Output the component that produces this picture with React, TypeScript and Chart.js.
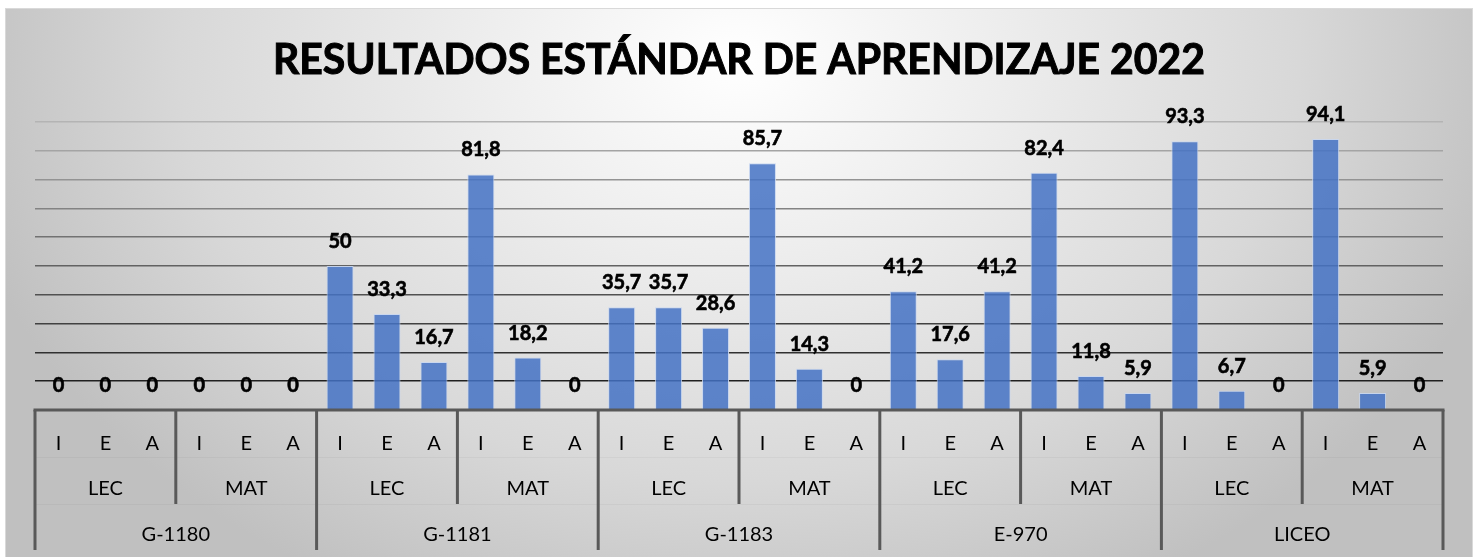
import React, { useEffect, useRef } from "react";
import { Chart, registerables } from "chart.js";

Chart.register(...registerables);

const TITLE = "RESULTADOS ESTÁNDAR DE APRENDIZAJE 2022";
const SCHOOLS = ["G-1180", "G-1181", "G-1183", "E-970", "LICEO"];
const SUBJECTS = ["LEC", "MAT"];
const LEVELS = ["I", "E", "A"];

const G1180 = [0, 0, 0, 0, 0, 0];
const G1181 = [50, 33.3, 16.7, 81.8, 18.2, 0];
const G1183 = [35.7, 35.7, 28.6, 85.7, 14.3, 0];
const E970 = [41.2, 17.6, 41.2, 82.4, 11.8, 5.9];
const LICEO = [93.3, 6.7, 0, 94.1, 5.9, 0];

const VALUES = [...G1180, ...G1181, ...G1183, ...E970, ...LICEO];

const Y_MIN = 0;
const Y_MAX = 100;
const Y_STEP = 10;

const FONT = "Lato, 'Open Sans', sans-serif";

const fmt = (v: number) => String(v).replace(".", ",");

export default function App() {
  const ref = useRef<HTMLCanvasElement>(null);

  useEffect(() => {
    const canvas = ref.current;
    if (!canvas) return;

    const labels: string[] = [];
    SCHOOLS.forEach(() => SUBJECTS.forEach(() => LEVELS.forEach((l) => labels.push(l))));

    const bgPlugin = {
      id: "bg",
      beforeDraw(chart: any) {
        const { ctx, width, height } = chart;
        ctx.save();
        const cx = width / 2;
        const cy = 52;
        const sy = 0.75;
        ctx.translate(cx, cy);
        ctx.scale(1, sy);
        const g = ctx.createRadialGradient(0, 0, 0, 0, 0, 800);
        g.addColorStop(0, "#ffffff");
        g.addColorStop(0.35, "#ececec");
        g.addColorStop(0.7, "#d8d8d8");
        g.addColorStop(1, "#c0c0c0");
        ctx.fillStyle = g;
        ctx.fillRect(-cx, -cy / sy, width, height / sy + 10);
        ctx.restore();
        ctx.save();
        ctx.strokeStyle = "#d9d9d9";
        ctx.lineWidth = 1;
        ctx.strokeRect(0.5, 0.5, width - 1, height + 5);
        ctx.restore();
      },
    };

    const labelPlugin = {
      id: "vals",
      afterDatasetsDraw(chart: any) {
        const { ctx } = chart;
        const meta = chart.getDatasetMeta(0);
        ctx.save();
        ctx.font = `bold 20px ${FONT}`;
        ctx.fillStyle = "#000000";
        ctx.strokeStyle = "#000000";
        ctx.lineWidth = 0.6;
        ctx.textAlign = "center";
        ctx.textBaseline = "alphabetic";
        meta.data.forEach((bar: any, i: number) => {
          const t = fmt(VALUES[i]);
          ctx.fillText(t, bar.x, bar.y - 18);
          ctx.strokeText(t, bar.x, bar.y - 18);
        });
        ctx.restore();
      },
    };

    const axisPlugin = {
      id: "multiAxis",
      afterDraw(chart: any) {
        const { ctx, chartArea } = chart;
        const xs = chart.scales.x;
        const ys = chart.scales.y;
        const axisY = ys.getPixelForValue(0);
        const n = labels.length;
        const boundary = (i: number) => {
          if (i <= 0) return chartArea.left;
          if (i >= n) return chartArea.right;
          return (xs.getPixelForValue(i - 1) + xs.getPixelForValue(i)) / 2;
        };
        ctx.save();
        // faint row lines
        ctx.strokeStyle = "rgba(0,0,0,0.035)";
        ctx.lineWidth = 1;
        [47, 94].forEach((d) => {
          ctx.beginPath();
          ctx.moveTo(chartArea.left, axisY + d + 0.5);
          ctx.lineTo(chartArea.right, axisY + d + 0.5);
          ctx.stroke();
        });
        // separators
        ctx.strokeStyle = "#595959";
        ctx.lineWidth = 3;
        const per2 = LEVELS.length;
        const per3 = LEVELS.length * SUBJECTS.length;
        for (let i = 0; i <= n; i += per2) {
          const x = boundary(i);
          const isTop = i % per3 === 0;
          ctx.beginPath();
          ctx.moveTo(x, axisY);
          ctx.lineTo(x, axisY + (isTop ? 140 : 94));
          ctx.stroke();
        }
        // axis line
        ctx.beginPath();
        ctx.moveTo(chartArea.left - 1.5, axisY);
        ctx.lineTo(chartArea.right + 1.5, axisY);
        ctx.stroke();

        ctx.fillStyle = "#000000";
        ctx.textAlign = "center";
        ctx.textBaseline = "middle";
        ctx.font = `20px ${FONT}`;
        labels.forEach((l, i) => {
          ctx.fillText(l, xs.getPixelForValue(i), axisY + 34);
        });
        let idx = 0;
        SCHOOLS.forEach((s, si) => {
          SUBJECTS.forEach((sub) => {
            const a = boundary(idx);
            const b = boundary(idx + per2);
            ctx.fillText(sub, (a + b) / 2, axisY + 79);
            idx += per2;
          });
          const a = boundary(si * per3);
          const b = boundary((si + 1) * per3);
          ctx.fillText(s, (a + b) / 2, axisY + 125);
        });

        // title
        ctx.font = `bold 42px ${FONT}`;
        ctx.textBaseline = "alphabetic";
        ctx.strokeStyle = "#000000";
        ctx.lineWidth = 1;
        const tx = (chartArea.left + chartArea.right) / 2;
        ctx.fillText(TITLE, tx, 66, 932);
        ctx.strokeText(TITLE, tx, 66, 932);
        ctx.restore();
      },
    };

    const chart = new Chart(canvas, {
      type: "bar",
      data: {
        labels,
        datasets: [
          {
            data: VALUES,
            backgroundColor: "rgba(68,114,196,0.85)",
            borderColor: (c: any) => (c.raw === 0 ? "rgba(0,0,0,0)" : "rgba(200,214,240,0.9)"),
            borderWidth: 1,
            barPercentage: 0.575,
            categoryPercentage: 1,
          },
        ],
      },
      options: {
        responsive: false,
        animation: false,
        layout: { padding: { left: 30, right: 30, top: 114, bottom: 147 } },
        plugins: {
          legend: { display: false },
          title: { display: false },
          tooltip: { enabled: false },
        },
        scales: {
          x: { display: false },
          y: {
            display: true,
            min: Y_MIN,
            max: Y_MAX,
            ticks: { display: false, stepSize: Y_STEP },
            border: { display: false },
            grid: {
              drawTicks: false,
              lineWidth: 1.5,
              color: (c: any) => {
                const v = c.tick ? c.tick.value : 0;
                const g = Math.round(15 + (v / Y_MAX) * 165);
                return `rgb(${g},${g},${g})`;
              },
            },
          },
        },
      },
      plugins: [bgPlugin, labelPlugin, axisPlugin],
    });

    return () => chart.destroy();
  }, []);

  return (
    <div style={{ position: "absolute", left: 5, top: 8, width: 1468, height: 549 }}>
      <canvas ref={ref} width={1468} height={549} style={{ display: "block" }} />
    </div>
  );
}
